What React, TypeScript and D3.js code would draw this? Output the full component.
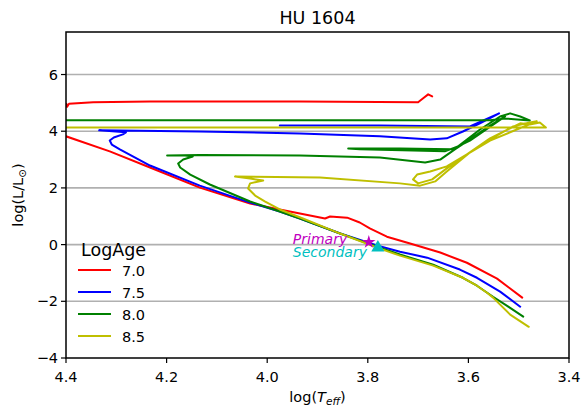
import React from "react";
import * as d3 from "d3";

const title = "HU 1604";
const ages = ["7.0", "7.5", "8.0", "8.5"];
const colors = ["#ff0000", "#0000ff", "#008000", "#bfbf00"];

const logT70 = [3.493, 3.517, 3.543, 3.603, 3.656, 3.716, 3.762, 3.796, 3.816, 3.841, 3.875, 3.885, 3.935, 3.975, 4.034, 4.134, 4.233, 4.313, 4.4, 4.452, 4.42, 4.399, 4.398, 4.394, 4.346, 4.233, 3.935, 3.7, 3.688, 3.68, 3.672];
const logL70 = [-1.87, -1.55, -1.2, -0.64, -0.28, 0.04, 0.28, 0.57, 0.78, 0.95, 0.99, 0.92, 1.1, 1.24, 1.45, 2.01, 2.72, 3.29, 3.82, 4.13, 4.96, 4.96, 4.86, 4.97, 5.02, 5.05, 5.05, 5.02, 5.19, 5.3, 5.23];

const logT75 = [3.497, 3.537, 3.583, 3.617, 3.682, 3.736, 3.78, 3.855, 3.935, 3.975, 4.034, 4.134, 4.233, 4.293, 4.309, 4.313, 4.305, 4.287, 4.281, 4.334, 4.134, 3.935, 3.776, 3.676, 3.643, 3.611, 3.577, 3.539, 3.597, 3.776, 3.975];
const logL75 = [-2.19, -1.66, -1.17, -0.88, -0.46, -0.25, -0.04, 0.39, 0.92, 1.17, 1.48, 2.08, 2.79, 3.36, 3.53, 3.67, 3.78, 3.89, 3.96, 4.03, 3.99, 3.92, 3.82, 3.71, 3.75, 3.99, 4.28, 4.63, 4.17, 4.2, 4.2];

const logT80 = [3.491, 3.517, 3.551, 3.583, 3.611, 3.67, 3.736, 3.776, 3.855, 3.935, 3.975, 4.034, 4.114, 4.153, 4.173, 4.177, 4.167, 4.148, 4.163, 4.199, 4.134, 3.935, 3.776, 3.686, 3.656, 3.627, 3.597, 3.557, 3.527, 3.597, 3.633, 3.736, 3.839, 3.816, 3.647, 3.621, 3.577, 3.537, 3.517, 3.497, 3.478, 3.527, 3.557, 4.4, 4.452];
const logL80 = [-2.54, -2.23, -1.84, -1.45, -1.17, -0.71, -0.35, -0.11, 0.39, 0.92, 1.17, 1.52, 2.12, 2.47, 2.72, 2.86, 3.0, 3.11, 3.14, 3.14, 3.16, 3.14, 3.07, 2.9, 3.0, 3.36, 3.71, 4.2, 4.52, 3.67, 3.36, 3.39, 3.39, 3.36, 3.29, 3.46, 4.06, 4.52, 4.63, 4.52, 4.38, 4.45, 4.39, 4.39, 4.39];

const logT85 = [3.48, 3.517, 3.551, 3.563, 3.583, 3.611, 3.67, 3.736, 3.776, 3.855, 3.929, 3.975, 4.004, 4.024, 4.038, 4.034, 4.008, 4.034, 4.064, 3.895, 3.736, 3.696, 3.666, 3.643, 3.597, 3.557, 3.511, 3.478, 3.464, 3.557, 3.643, 3.676, 3.702, 3.71, 3.7, 3.672, 3.643, 3.557, 3.497, 3.478, 3.458, 3.446, 3.478, 4.4, 4.452];
const logL85 = [-2.9, -2.47, -1.87, -1.7, -1.45, -1.17, -0.74, -0.39, -0.14, 0.39, 0.92, 1.24, 1.52, 1.73, 1.98, 2.16, 2.26, 2.33, 2.4, 2.37, 2.16, 2.08, 2.23, 2.58, 3.25, 3.71, 4.17, 4.31, 4.35, 3.67, 2.76, 2.58, 2.47, 2.3, 2.16, 2.3, 2.69, 3.75, 4.28, 4.24, 4.31, 4.13, 4.13, 4.13, 4.13];

const starNames = ["Primary", "Secondary"];
const starT = [3.798, 3.78];
const starL = [0.09, -0.07];
const starColors = ["#bf00bf", "#00bfbf"];

const xTicks = [4.4, 4.2, 4.0, 3.8, 3.6, 3.4];
const yTicks = [-4, -2, 0, 2, 4, 6];

const W = 581, H = 408;
const ml = 66, mr = 569, mt = 32, mb = 358;

export default function App() {
  const x = d3.scaleLinear().domain([4.4, 3.4]).range([ml, mr]);
  const y = d3.scaleLinear().domain([-4, 7.5]).range([mb, mt]);
  const series = [
    [logT70, logL70],
    [logT75, logL75],
    [logT80, logL80],
    [logT85, logL85],
  ];
  const paths = series.map(([ts, ls]) => {
    const pts: [number, number][] = ts.map((t, i) => [x(t), y(ls[i])]);
    return d3.line().curve(d3.curveLinear)(pts) || "";
  });
  const font = "DejaVu Sans, Verdana, sans-serif";
  const fmtY = (v: number) => (v < 0 ? "\u2212" + Math.abs(v) : String(v));
  const starPath = d3.symbol().type(d3.symbolStar).size(55)() || "";
  const triPath = d3.symbol().type(d3.symbolTriangle).size(75)() || "";
  const legendY0 = 270;
  return (
    <svg
      width={W}
      height={H}
      style={{ position: "absolute", left: 0, top: 0, background: "#fff" }}
      fontFamily={font}
    >
      <defs>
        <clipPath id="plotclip">
          <rect x={ml} y={mt} width={mr - ml} height={mb - mt} />
        </clipPath>
      </defs>
      <rect x={0} y={0} width={W} height={H} fill="#fff" />
      {yTicks
        .filter((v) => v > -4)
        .map((v) => (
          <line key={"g" + v} x1={ml} x2={mr} y1={y(v)} y2={y(v)} stroke="#b0b0b0" strokeWidth={1.6} />
        ))}
      <g clipPath="url(#plotclip)">
        {paths.map((p, i) => (
          <path key={i} d={p} fill="none" stroke={colors[i]} strokeWidth={2} strokeLinejoin="round" strokeLinecap="round" />
        ))}
      </g>
      <path d={starPath} transform={`translate(${x(starT[0])},${y(starL[0])})`} fill={starColors[0]} />
      <path d={triPath} transform={`translate(${x(starT[1])},${y(starL[1]) + 1})`} fill={starColors[1]} />
      <text x={x(3.949)} y={y(starL[0]) + 2} fontSize={14} fontStyle="italic" fill={starColors[0]}>
        {starNames[0]}
      </text>
      <text x={x(3.949)} y={y(starL[1]) + 10.5} fontSize={14} fontStyle="italic" fill={starColors[1]}>
        {starNames[1]}
      </text>
      <text x={81} y={256} fontSize={17.5} fill="#000">LogAge</text>
      {ages.map((a, i) => (
        <g key={a}>
          <line x1={78} x2={111} y1={legendY0 + i * 22} y2={legendY0 + i * 22} stroke={colors[i]} strokeWidth={2} />
          <text x={122} y={legendY0 + i * 22 + 5.5} fontSize={14.5} fill="#000">{a}</text>
        </g>
      ))}
      <rect x={ml} y={mt} width={mr - ml} height={mb - mt} fill="none" stroke="#000" strokeWidth={1.5} />
      {xTicks.map((v) => (
        <g key={"x" + v}>
          <line x1={x(v)} x2={x(v)} y1={mb} y2={mb + 5} stroke="#000" strokeWidth={1.2} />
          <text x={x(v)} y={mb + 24} fontSize={14.5} textAnchor="middle" fill="#000">
            {v.toFixed(1)}
          </text>
        </g>
      ))}
      {yTicks.map((v) => (
        <g key={"y" + v}>
          <line x1={ml - 5} x2={ml} y1={y(v)} y2={y(v)} stroke="#000" strokeWidth={1.2} />
          <text x={ml - 8} y={y(v) + 5} fontSize={14.5} textAnchor="end" fill="#000">
            {fmtY(v)}
          </text>
        </g>
      ))}
      <text x={(ml + mr) / 2} y={24} fontSize={17.5} textAnchor="middle" fill="#000">{title}</text>
      <text x={(ml + mr) / 2} y={402} fontSize={14.5} textAnchor="middle" fill="#000">
        log(<tspan fontStyle="italic">T</tspan>
        <tspan fontStyle="italic" fontSize={10.5} dy={3}>eff</tspan>
        <tspan dy={-3}>)</tspan>
      </text>
      <text transform={`translate(23,${(mt + mb) / 2}) rotate(-90)`} fontSize={14.5} textAnchor="middle" fill="#000">
        log(L/L<tspan fontSize={10.5} dy={3}>{"\u2299"}</tspan>
        <tspan dy={-3}>)</tspan>
      </text>
    </svg>
  );
}
